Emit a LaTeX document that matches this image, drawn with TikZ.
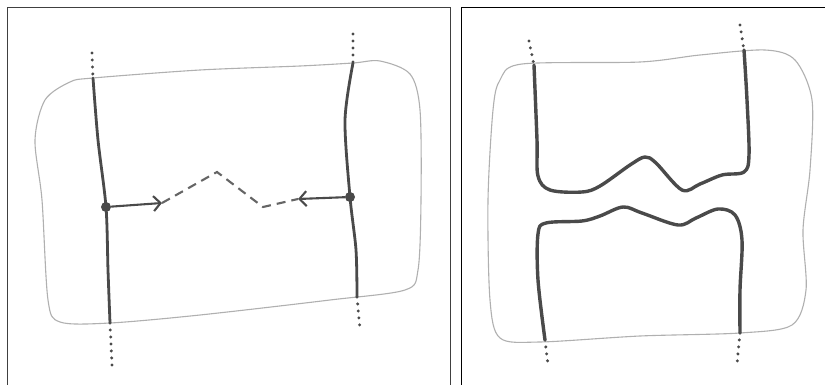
\documentclass[tikz,border=0pt]{standalone}
\usetikzlibrary{arrows.meta}
\definecolor{pencil}{HTML}{4A4A4A}
\definecolor{faint}{HTML}{B0B0B0}
\tikzset{
  blob/.style={draw=faint,line width=1.1pt},
  strand/.style={draw=pencil,line width=2.8pt,line cap=round},
  fatstrand/.style={draw=pencil,line width=3.4pt,line cap=round},
  dotted ends/.style={draw=pencil,line width=3.3pt,line cap=round,dash pattern=on 0pt off 7pt},
  joint/.style={circle,fill=pencil,inner sep=0pt,minimum size=10pt},
  spike/.style={draw=pencil,line width=2.1pt,-{Straight Barb[length=7pt,width=15pt]}},
  bridge/.style={draw=pencil!85,line width=2.1pt,dash pattern=on 9pt off 6pt}
}
\begin{document}
\begin{tikzpicture}[x=1pt,y=-1pt]
\useasboundingbox (0,0) rectangle (827,385);
\fill[white] (0,0) rectangle (827,385);
% frames
\draw[line width=1pt,black!75] (7,390)--(7,8)--(450,8)--(450,390);
\draw[line width=1pt,black] (461,390)--(461,8)--(825,8);
% left panel: surface
\draw[blob,smooth cycle] plot coordinates {(93,78)(200,70)(300,66)(353,63)(380,61)(410,74)(420,110)(421,200)(418,270)(405,290)(330,300)(200,315)(110,323)(60,322)(48,300)(42,200)(35,140)(45,100)(70,82)};
% left panel: strands
\coordinate (lt) at (93,78); \coordinate (lb) at (110,323);
\coordinate (rt) at (353,63); \coordinate (rb) at (357,297);
\node[joint] (pL) at (106,207) {};
\node[joint] (pR) at (350,197) {};
\draw[strand,smooth] plot coordinates {(lt)(98,140)(pL)(108,270)(lb)};
\draw[strand,smooth] plot coordinates {(rt)(345,120)(pR)(356,250)(rb)};
\draw[dotted ends] (92,53)--(lt); \draw[dotted ends] (lb)--(112,365);
\draw[dotted ends] (353,34)--(rt); \draw[dotted ends] (rb)--(360,330);
% left panel: arrows and the broken bridge
\coordinate (aL) at (162,203); \coordinate (aR) at (298,199);
\draw[spike] (pL)--(aL);
\draw[spike] (pR)--(aR);
\draw[bridge] (aL)--(217,172)--(263,207)--(aR);
% right panel: surface
\draw[blob,smooth cycle] plot coordinates {(522,64)(640,62)(700,55)(765,50)(795,60)(812,100)(810,170)(803,230)(806,290)(792,325)(740,333)(640,336)(540,342)(500,338)(490,300)(488,200)(493,110)(500,80)};
% right panel: upper strand
\coordinate (ut) at (534,65); \coordinate (urt) at (744,50);
\draw[fatstrand,smooth,tension=0.55] plot coordinates {(ut)(537,140)(538,176)(550,190)(582,192)(600,186)(630,165)(645,157)(656,163)(682,190)(700,184)(722,175)(744,172)(749,155)(747,100)(urt)};
% right panel: lower strand
\coordinate (lbl) at (545,340); \coordinate (lbr) at (740,333);
\draw[fatstrand,smooth,tension=0.55] plot coordinates {(lbl)(538,280)(538,234)(546,223)(582,221)(600,216)(623,207)(642,213)(678,225)(696,218)(718,209)(735,215)(742,240)(740,290)(lbr)};
\draw[dotted ends] (529,41)--(ut); \draw[dotted ends] (740,25)--(urt);
\draw[dotted ends] (lbl)--(548,365); \draw[dotted ends] (lbr)--(737,364);
\end{tikzpicture}
\end{document}
